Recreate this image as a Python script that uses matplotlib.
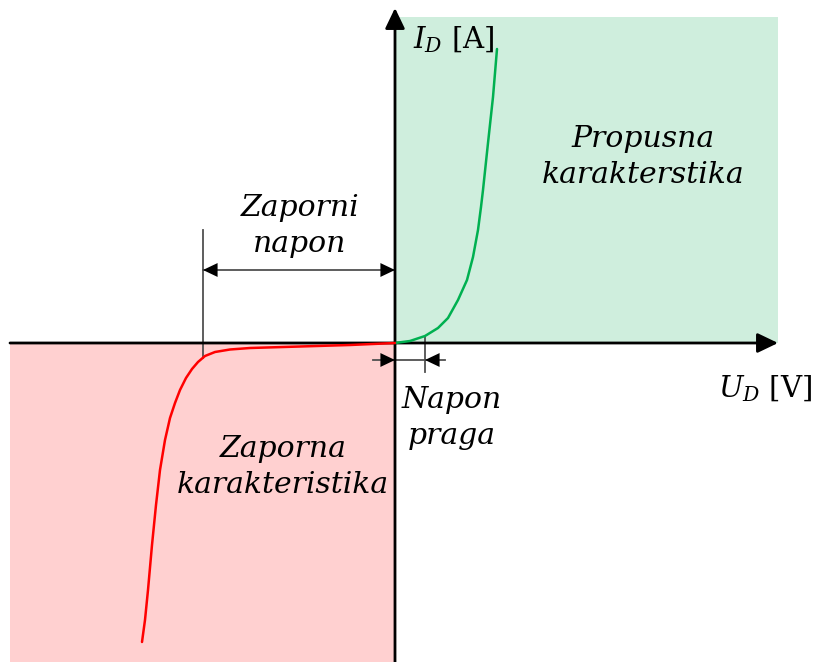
import matplotlib.pyplot as plt

# diode characteristic, arbitrary units (origin = axis crossing)
fwd_u = [0, 0.15, 0.30, 0.43, 0.53, 0.63, 0.72, 0.78, 0.83, 0.86, 0.88, 0.93, 0.98, 1.02]
fwd_i = [0, 0.02, 0.07, 0.15, 0.25, 0.43, 0.63, 0.86, 1.13, 1.36, 1.53, 2.00, 2.46, 2.94]
rev_u = [0, -0.45, -0.95, -1.45, -1.65, -1.80, -1.90, -1.97, -2.03, -2.09, -2.15, -2.20,
         -2.25, -2.30, -2.35, -2.39, -2.43, -2.47, -2.50, -2.53]
rev_i = [0, -0.02, -0.035, -0.05, -0.065, -0.09, -0.13, -0.19, -0.26, -0.35, -0.47, -0.60,
         -0.75, -0.97, -1.27, -1.62, -2.02, -2.47, -2.77, -2.99]

u_breakdown = -1.92   # zaporni napon marker
u_threshold = 0.30    # napon praga marker

plt.rcParams['mathtext.fontset'] = 'dejavuserif'
fig = plt.figure(figsize=(8.14, 6.62), dpi=100)
ax = fig.add_axes([0, 0, 1, 1])
ax.set_xlim(-3.95, 4.19)
ax.set_ylim(-3.19, 3.43)
ax.axis('off')

# shaded quadrants
ax.fill_between([0, 3.83], 0, 3.26, color='#cfeedd', lw=0)
ax.fill_between([-3.85, 0], -3.19, 0, color='#ffd0d0', lw=0)

# axes with arrows
axis_arrow = dict(arrowstyle='-|>,head_length=1.25,head_width=0.6', color='black', lw=2,
                  shrinkA=0, shrinkB=0)
ax.annotate('', xy=(3.83, 0), xytext=(-3.85, 0), arrowprops=axis_arrow)
ax.annotate('', xy=(0, 3.35), xytext=(0, -3.19), arrowprops=axis_arrow)

# curves
ax.plot(fwd_u, fwd_i, color='#00b050', lw=1.8, zorder=3, solid_capstyle='round')
ax.plot(rev_u, rev_i, color='#ff0000', lw=1.8, zorder=3, solid_capstyle='round')

dim_color = '#505050'
dim_arrow = dict(arrowstyle='-|>,head_length=1.05,head_width=0.5', color='black', lw=0,
                 shrinkA=0, shrinkB=0)

# zaporni napon dimension
ax.plot([u_breakdown, u_breakdown], [1.13, -0.15], color=dim_color, lw=1.3)
ax.plot([u_breakdown, 0], [0.73, 0.73], color=dim_color, lw=1.3)
ax.annotate('', xy=(u_breakdown, 0.73), xytext=(u_breakdown + 0.3, 0.73), arrowprops=dim_arrow)
ax.annotate('', xy=(0, 0.73), xytext=(-0.3, 0.73), arrowprops=dim_arrow)

# napon praga dimension
ax.plot([u_threshold, u_threshold], [0.06, -0.29], color=dim_color, lw=1.3)
ax.plot([-0.22, 0.50], [-0.17, -0.17], color=dim_color, lw=1.3)
ax.annotate('', xy=(0, -0.17), xytext=(-0.22, -0.17), arrowprops=dim_arrow)
ax.annotate('', xy=(u_threshold, -0.17), xytext=(0.50, -0.17), arrowprops=dim_arrow)

font = dict(family='DejaVu Serif', style='italic', fontsize=21.5, ha='center', va='center',
            linespacing=1.4)
ax.text(-0.95, 1.17, 'Zaporni\nnapon', **font)
ax.text(2.48, 1.86, 'Propusna\nkarakterstika', **font)
ax.text(-1.12, -1.24, 'Zaporna\nkarakteristika', **font)
ax.text(0.57, -0.75, 'Napon\npraga', **font)

ax.text(0.18, 3.03, r'$I_D$ [A]', family='DejaVu Serif', fontsize=21, ha='left', va='center')
ax.text(4.17, -0.46, r'$U_D$ [V]', family='DejaVu Serif', fontsize=21, ha='right', va='center')

fig.savefig('out.png', dpi=100)
